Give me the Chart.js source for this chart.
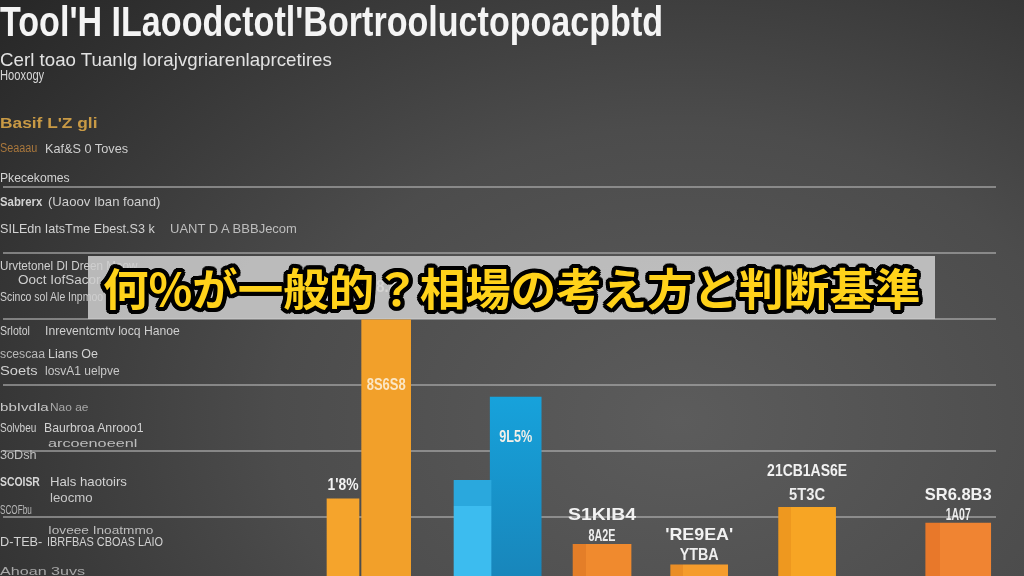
<!DOCTYPE html>
<html>
<head>
<meta charset="utf-8">
<script src="https://cdn.jsdelivr.net/npm/chart.js@4.4.1/dist/chart.umd.min.js"></script>
<style>
html,body{margin:0;padding:0;width:1024px;height:576px;overflow:hidden;background:#333;}
#wrap{position:relative;width:1024px;height:576px;overflow:hidden;
  background:radial-gradient(ellipse 900px 650px at 680px 420px,#5c5c5c 0%,#4c4c4c 45%,#303030 85%,#262626 100%);}
#c{position:absolute;left:0;top:0;}
.t{position:absolute;white-space:nowrap;transform-origin:0 0;line-height:1;font-family:"Liberation Sans",Arial,sans-serif;}
#banner{position:absolute;left:88px;top:256px;width:847px;height:63px;background:rgba(206,206,206,0.86);}
#bannerText{position:absolute;left:15px;top:0;height:63px;line-height:63px;white-space:nowrap;transform-origin:0 50%;
  font-family:"Noto Sans CJK JP","Noto Sans CJK SC",sans-serif;font-weight:700;font-size:44px;color:#ffd21a;}
</style>
</head>
<body>
<div id="wrap">
  <canvas id="c" width="1024" height="576"></canvas>
  <div id="texts"></div>
  <div id="banner"><div id="bannerText">何%が一般的？相場の考え方と判断基準</div></div>
</div>
<script>
// ---------- data ----------
const categories = ["1'8%", "8S6S8", "SKl", "9L5%", "S1KIB4", "RE9EA", "21CB1AS6E", "SR6.8B3"];
const values     = [12.7, 39.8, 15.5, 28.1, 5.8, 2.7, 11.4, 9.0];
const slotCount  = 92;
const barSlots   = [31, 35, 43, 47, 55, 64, 74, 88];
const gridValues = [10, 20, 30, 40, 50, 60];
const labelsUpper = ["1'8%", "L8.86", "", "9L5%", "S1KIB4", "'RE9EA'", "21CB1AS6E", "SR6.8B3"];
const labelsLower = ["", "8S6S8", "", "", "8A2E", "YTBA", "5T3C", "1A07"];

// ---------- styles ----------
const barColors = ['#f5a42c', '#f2a02a', '#3cbcef', '#17a2db', '#f08a2e', '#f59c2c', '#f7a524', '#f08432'];
const barSides  = ['#f5a42c', '#f2a02a', '#2aa8dd', '#1886bb', '#e47e28', '#ea8e26', '#ee981f', '#e8782a'];
const barShade  = ['h', 'h', 'top', 'v', 'h', 'h', 'h', 'h'];
const barWidths = [32, 49, 37, 51, 58, 57, 57, 65];
// [dy from bar top, width] for upper / lower label lines
const upperStyle = [[-9, 31], [-28, 38], [0, 0], [45, 33], [-24, 68], [-25, 68], [-31, 80], [-23, 67]];
const lowerStyle = [[0, 0], [70, 39], [0, 0], [0, 0], [-3, 27], [-5, 39], [-7, 36], [-3, 25]];

const labels = Array.from({length: slotCount}, (_, i) => {
  const b = barSlots.indexOf(i); return b >= 0 ? categories[b] : '';
});

const datasets = values.map((v, b) => ({
  label: categories[b],
  data: labels.map((_, i) => i === barSlots[b] ? v : null),
  grouped: false,
  barThickness: barWidths[b],
  borderWidth: 0,
  backgroundColor: (ctx) => {
    const chart = ctx.chart, xs = chart.scales && chart.scales.x, ys = chart.scales && chart.scales.y;
    if (!xs || !ys || ctx.dataIndex !== barSlots[b] || !chart.chartArea) return barColors[b];
    const cx = xs.getPixelForValue(ctx.dataIndex), w = barWidths[b];
    const top = ys.getPixelForValue(values[b]), bot = chart.chartArea.bottom;
    let g;
    if (barShade[b] === 'h') {
      g = chart.ctx.createLinearGradient(cx - w / 2, 0, cx + w / 2, 0);
      g.addColorStop(0, barSides[b]); g.addColorStop(0.22, barSides[b]);
      g.addColorStop(0.22, barColors[b]); g.addColorStop(1, barColors[b]);
    } else if (barShade[b] === 'top') {
      g = chart.ctx.createLinearGradient(0, top, 0, bot);
      const f = 26 / (bot - top);
      g.addColorStop(0, barSides[b]); g.addColorStop(f, barSides[b]);
      g.addColorStop(f, barColors[b]); g.addColorStop(1, barColors[b]);
    } else {
      g = chart.ctx.createLinearGradient(0, top, 0, bot);
      g.addColorStop(0, barColors[b]); g.addColorStop(1, barSides[b]);
    }
    return g;
  }
}));

const barLabelPlugin = {
  id: 'barLabels',
  afterDatasetsDraw(chart) {
    const ctx = chart.ctx;
    values.forEach((v, b) => {
      const el = chart.getDatasetMeta(b).data[barSlots[b]];
      if (!el) return;
      const draw = (txt, st, color) => {
        if (!txt) return;
        ctx.save();
        ctx.font = 'bold 17px "Liberation Sans", Arial, sans-serif';
        const m = ctx.measureText(txt).width;
        ctx.translate(el.x, el.y + st[0]);
        ctx.scale(st[1] / m, 1);
        ctx.textAlign = 'center'; ctx.textBaseline = 'alphabetic';
        ctx.fillStyle = color;
        ctx.fillText(txt, 0, 0);
        ctx.restore();
      };
      draw(labelsUpper[b], upperStyle[b], b === 1 || b === 3 ? '#f4f0e8' : '#f2f2f2');
      draw(labelsLower[b], lowerStyle[b], b === 1 ? '#fbe6c4' : '#eeeeee');
    });
  }
};

new Chart(document.getElementById('c'), {
  type: 'bar',
  data: { labels, datasets },
  options: {
    responsive: false,
    animation: false,
    layout: { padding: { left: 3, right: 28, top: 0, bottom: 0 } },
    plugins: { legend: { display: false }, tooltip: { enabled: false } },
    scales: {
      x: { display: false, offset: true },
      y: {
        min: 1, max: 88.27,
        border: { display: false },
        ticks: { display: false },
        grid: { color: 'rgba(178,178,178,0.6)', lineWidth: 2, drawTicks: false },
        afterBuildTicks: (axis) => { axis.ticks = gridValues.map(v => ({ value: v })); }
      }
    }
  },
  plugins: [barLabelPlugin]
});

// ---------- page texts (left column, title) ----------
// [text, x, baseline, fontSize, width, color, weight]
const pageTexts = [
  ["Tool'H ILaoodctotl'Bortrooluctopoacpbtd", 0, 37, 42, 663, '#f4f4f4', 700],
  ["Cerl toao Tuanlg lorajvgriarenlaprcetires", 0, 66, 19, 332, '#e2e2e2', 400],
  ["Hooxogy", 0, 80, 14, 44, '#d6d6d6', 400],
  ["Basif L'Z gli", 0, 128, 15, 97, '#c99a45', 700],
  ["Seaaau", 0, 152, 12, 37, '#a9773c', 400],
  ["Kaf&S 0 Toves", 45, 153, 13, 83, '#cfcfcf', 400],
  ["Pkecekomes", 0, 182, 12, 70, '#d2d2d2', 400],
  ["Sabrerx", 0, 206, 13, 42, '#d2d2d2', 700],
  ["(Uaoov Iban foand)", 48, 206, 13, 112, '#cfcfcf', 400],
  ["SILEdn IatsTme Ebest.S3 k", 0, 233, 13, 155, '#d2d2d2', 400],
  ["UANT D A BBBJecom", 170, 233, 13, 127, '#bdbdbd', 400],
  ["Urvtetonel DI  Dreen Maow", 0, 270, 12, 137, '#d0d0d0', 400],
  ["Ooct  IofSacor", 18, 284, 12, 82, '#cfcfcf', 400],
  ["Scinco sol  Ale Inpmoo", 0, 301, 12, 103, '#cfcfcf', 400],
  ["Srlotol", 0, 335, 13, 30, '#d0d0d0', 400],
  ["Inreventcmtv locq Hanoe", 45, 335, 13, 135, '#cfcfcf', 400],
  ["scescaa", 0, 358, 12, 45, '#b8b8b8', 400],
  ["Lians Oe", 48, 358, 13, 50, '#d2d2d2', 400],
  ["Soets", 0, 375, 12, 38, '#d2d2d2', 400],
  ["losvA1 uelpve", 45, 375, 12, 75, '#c8c8c8', 400],
  ["bbIvdla", 0, 411, 11, 48, '#c8c8c8', 400],
  ["Nao ae", 50, 411, 11, 38, '#a8a8a8', 400],
  ["Solvbeu", 0, 432, 12, 36, '#d0d0d0', 400],
  ["Baurbroa Anrooo1", 44, 432, 13, 100, '#d2d2d2', 400],
  ["arcoenoeenl", 48, 447, 11, 90, '#bdbdbd', 400],
  ["3oDsh", 0, 459, 12, 37, '#c0c0c0', 400],
  ["SCOISR", 0, 486, 13, 40, '#d6d6d6', 700],
  ["Hals haotoirs", 50, 486, 13, 77, '#d2d2d2', 400],
  ["leocmo", 50, 502, 12, 43, '#c8c8c8', 400],
  ["SCOFbu", 0, 514, 12, 32, '#b8b8b8', 400],
  ["Ioveee Inoatmmo", 48, 534, 10, 105, '#bdbdbd', 400],
  ["D-TEB-", 0, 546, 13, 42, '#d2d2d2', 400],
  ["IBRFBAS CBOAS LAIO", 47, 546, 13, 116, '#d2d2d2', 400],
  ["Ahoan  3uvs", 0, 575, 11, 85, '#a8a8a8', 400]
];
const holder = document.getElementById('texts');
pageTexts.forEach(([txt, x, base, fs, w, col, wt]) => {
  const d = document.createElement('div');
  d.className = 't';
  d.textContent = txt;
  d.style.left = x + 'px';
  d.style.top = (base - 0.8465 * fs) + 'px';
  d.style.fontSize = fs + 'px';
  d.style.fontWeight = wt;
  d.style.color = col;
  holder.appendChild(d);
  const nat = d.offsetWidth || 1;
  d.style.transform = 'scaleX(' + (w / nat) + ')';
});

// banner text outline and fit
const bt = document.getElementById('bannerText');
const sh = [];
for (let a = 0; a < 360; a += 22.5) {
  const r = Math.PI * a / 180;
  sh.push((4 * Math.cos(r)).toFixed(2) + 'px ' + (4 * Math.sin(r)).toFixed(2) + 'px 0 #000');
  sh.push((2.2 * Math.cos(r)).toFixed(2) + 'px ' + (2.2 * Math.sin(r)).toFixed(2) + 'px 0 #000');
}
bt.style.textShadow = sh.join(',');
const btw = bt.offsetWidth || 1;
bt.style.transform = 'scaleX(' + (817 / btw) + ')';
</script>
</body>
</html>
